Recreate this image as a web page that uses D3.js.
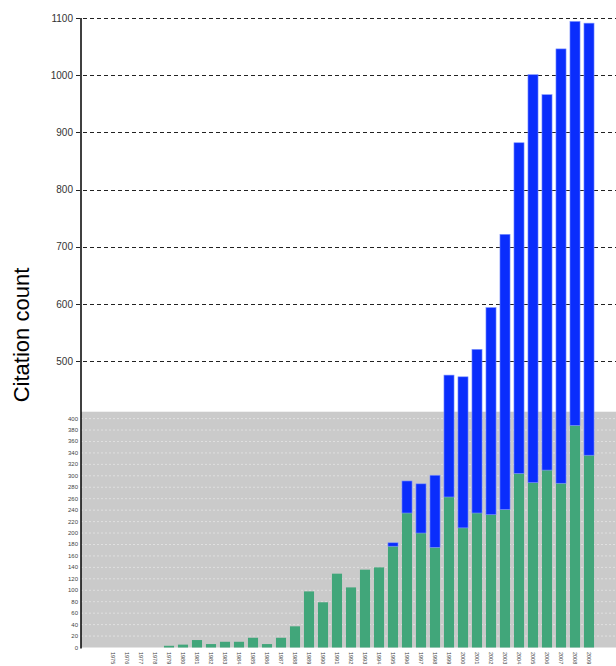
<!DOCTYPE html>
<html>
<head>
<meta charset="utf-8">
<script src="https://cdn.jsdelivr.net/npm/d3@7"></script>
<style>
body { margin: 0; background: #fff; }
svg { display: block; font-family: "Liberation Sans", Arial, sans-serif; }
</style>
</head>
<body>
<svg width="616" height="666"></svg>
<script>
// years on the x axis
var years = d3.range(1975, 2010).map(String);
// lower (green) part of each bar
var greenVals = [0,0,0,0,3,5,13,6,10,10,17,6,17,37,98,79,129,105,136,140,
	177,235,200,175,263,209,235,232,241,304,288,310,287,388,336];
// upper (blue) part stacked on top
var blueVals = [0,0,0,0,0,0,0,0,0,0,0,0,0,0,0,0,0,0,0,0,
	6,56,86,126,213,264,286,362,481,578,713,656,759,706,755];
var upperTicks = [500, 600, 700, 800, 900, 1000, 1100];
var lowerTicks = d3.range(0, 401, 20);

var svg = d3.select('svg');
var plotL = 81, plotR = 616, plotT = 18, plotB = 647.5;

var y = d3.scaleLinear().domain([0, 1100]).range([plotB, plotT]);
var x = d3.scaleBand().domain(years).range([106, 596]).paddingInner(0.28).paddingOuter(0.14);

// gray zone for the low range
svg.append('rect')
	.attr('x', plotL).attr('y', y(412))
	.attr('width', plotR - plotL).attr('height', plotB - y(412))
	.attr('fill', '#cacaca');

// white dotted lines inside the gray zone
svg.append('g').selectAll('line').data(lowerTicks.slice(1)).enter().append('line')
	.attr('x1', plotL).attr('x2', plotR)
	.attr('y1', function(d){ return y(d); }).attr('y2', function(d){ return y(d); })
	.attr('stroke', '#e6e6e6').attr('stroke-width', 0.8).attr('stroke-dasharray', '2,2');

// dashed grid for the upper range
svg.append('g').selectAll('line').data(upperTicks).enter().append('line')
	.attr('x1', 76).attr('x2', plotR)
	.attr('y1', function(d){ return Math.round(y(d)) + 0.5; })
	.attr('y2', function(d){ return Math.round(y(d)) + 0.5; })
	.attr('stroke', '#222').attr('stroke-width', 1).attr('stroke-dasharray', '4,3');

svg.append('g').selectAll('text').data(upperTicks).enter().append('text')
	.attr('x', 73).attr('y', function(d){ return y(d) + 3.5; })
	.attr('text-anchor', 'end').attr('font-size', 10).attr('fill', '#333')
	.text(function(d){ return d; });

svg.append('g').selectAll('text').data(lowerTicks).enter().append('text')
	.attr('x', 78).attr('y', function(d){ return y(d) + 2; })
	.attr('text-anchor', 'end').attr('font-size', 6).attr('fill', '#444')
	.text(function(d){ return d; });

// bars
var bars = svg.append('g');
bars.selectAll('rect.g').data(years).enter().append('rect')
	.attr('class', 'g')
	.attr('x', function(d){ return x(d); })
	.attr('width', x.bandwidth())
	.attr('y', function(d, i){ return y(greenVals[i]); })
	.attr('height', function(d, i){ return y(0) - y(greenVals[i]); })
	.attr('fill', '#41a67a');
bars.selectAll('rect.b').data(years).enter().append('rect')
	.attr('class', 'b')
	.attr('x', function(d){ return x(d); })
	.attr('width', x.bandwidth())
	.attr('y', function(d, i){ return y(greenVals[i] + blueVals[i]); })
	.attr('height', function(d, i){ return y(greenVals[i]) - y(greenVals[i] + blueVals[i]); })
	.attr('fill', '#0a2dfc')
	.attr('stroke', '#7f95ff').attr('stroke-width', 0.6)
	.attr('display', function(d, i){ return blueVals[i] > 0 ? null : 'none'; });

// x labels, rotated
svg.append('g').selectAll('text').data(years).enter().append('text')
	.attr('transform', function(d){ return 'translate(' + (x(d) + x.bandwidth()/2 - 2) + ',652) rotate(90)'; })
	.attr('font-size', 5.5).attr('fill', '#444')
	.text(function(d){ return d; });

// y axis line
svg.append('line')
	.attr('x1', plotL).attr('x2', plotL).attr('y1', plotT).attr('y2', plotB + 1)
	.attr('stroke', '#000').attr('stroke-width', 1.5);

svg.append('text')
	.attr('transform', 'translate(29,335) rotate(-90)')
	.attr('text-anchor', 'middle').attr('font-size', 22).attr('fill', '#000')
	.text('Citation count');
</script>
</body>
</html>
